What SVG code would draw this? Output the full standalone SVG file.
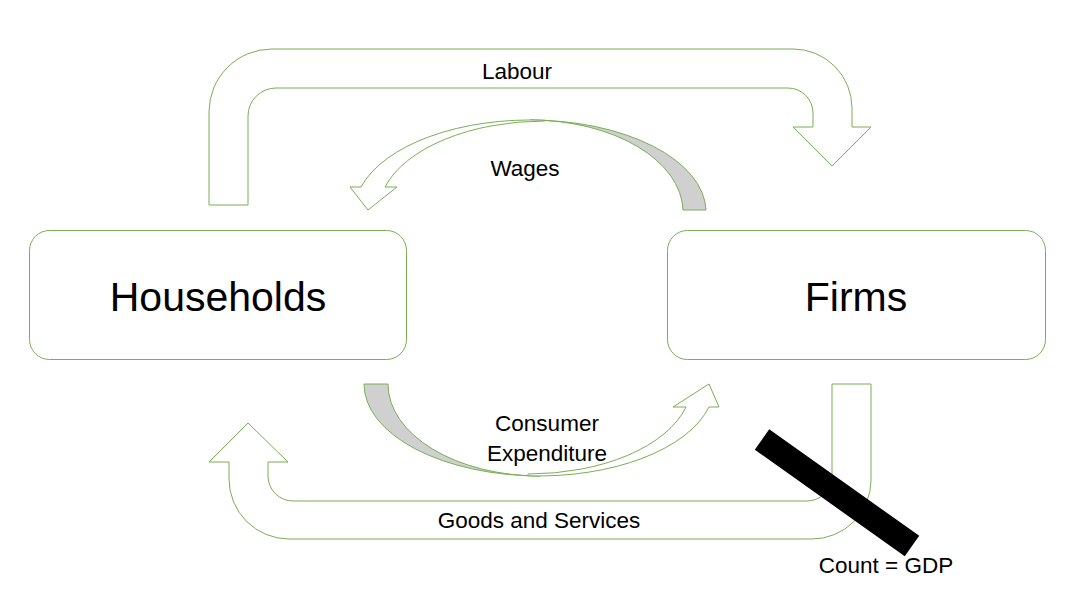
<svg xmlns="http://www.w3.org/2000/svg" width="1075" height="610" viewBox="0 0 1075 610">
  <style>
    .flow { fill: #ffffff; stroke: #7aae55; stroke-width: 1; stroke-linejoin: miter; }
    .back { fill: #d0d0d0; stroke: #7aae55; stroke-width: 1; }
    .box { fill: #ffffff; stroke: #7aae55; stroke-width: 1; }
    .big { font-family: "Liberation Sans", Arial, sans-serif; font-size: 41px; fill: #000; text-anchor: middle; }
    .lbl { font-family: "Liberation Sans", Arial, sans-serif; font-size: 22.5px; fill: #000; text-anchor: middle; }
  </style>
  <rect width="1075" height="610" fill="#ffffff"/>

  <g id="connectors">
    <!-- Labour: U-turn from households over the top into firms -->
    <path class="flow" d="M209,205 V112 A63,63 0 0 1 272,49 H793 A59,59 0 0 1 852,108 V127 H871 L832,166 L793,127 H813 V113 A25,25 0 0 0 788,88 H276 A28,28 0 0 0 248,116 V205 Z"/>

    <!-- Wages: curved arrow from firms back to households -->
    <path class="back" d="M530,120 A176,92 0 0 1 706,210 L683,210 A153,92 0 0 0 530,120 Z"/>
    <path class="flow" d="M545,120.3 A176,92 0 0 0 361,187 L350,187 L368,210 L397,187 L385,187 A166.4,91 0 0 1 545,121 Z"/>

    <!-- Consumer expenditure: curved arrow from households to firms -->
    <path class="back" d="M364,384 A176,92 0 0 0 540,476 A152,92 0 0 1 388,384 Z"/>
    <path class="flow" d="M528,475.8 A176,92 0 0 0 709,407 L719,407 L709,384 L673,407 L686,407 A163.4,90 0 0 1 528,474 Z"/>

    <!-- Goods and services: U-turn from firms under the bottom into households -->
    <path class="flow" d="M871,384 V480 A59,59 0 0 1 812,539 H289 A60,60 0 0 1 229,479 V462 H209 L248,423 L288,462 H268 V476 A25,25 0 0 0 293,501 H807 A25,25 0 0 0 832,476 V384 Z"/>
  </g>

  <g id="households">
    <rect class="box" x="29.5" y="230.5" width="377" height="129" rx="20" ry="20"/>
    <text class="big" x="218" y="311">Households</text>
  </g>

  <g id="firms">
    <rect class="box" x="667.5" y="230.5" width="378" height="129" rx="20" ry="20"/>
    <text class="big" x="856" y="311">Firms</text>
  </g>

  <g id="labels">
    <text class="lbl" x="517" y="79">Labour</text>
    <text class="lbl" x="525" y="176">Wages</text>
    <text class="lbl" x="547" y="431">Consumer</text>
    <text class="lbl" x="547" y="461">Expenditure</text>
    <text class="lbl" x="539" y="528">Goods and Services</text>
  </g>

  <g id="gdp-marker">
    <line x1="762" y1="439.5" x2="912" y2="546" stroke="#000000" stroke-width="25"/>
    <text class="lbl" x="886" y="573">Count = GDP</text>
  </g>
</svg>
